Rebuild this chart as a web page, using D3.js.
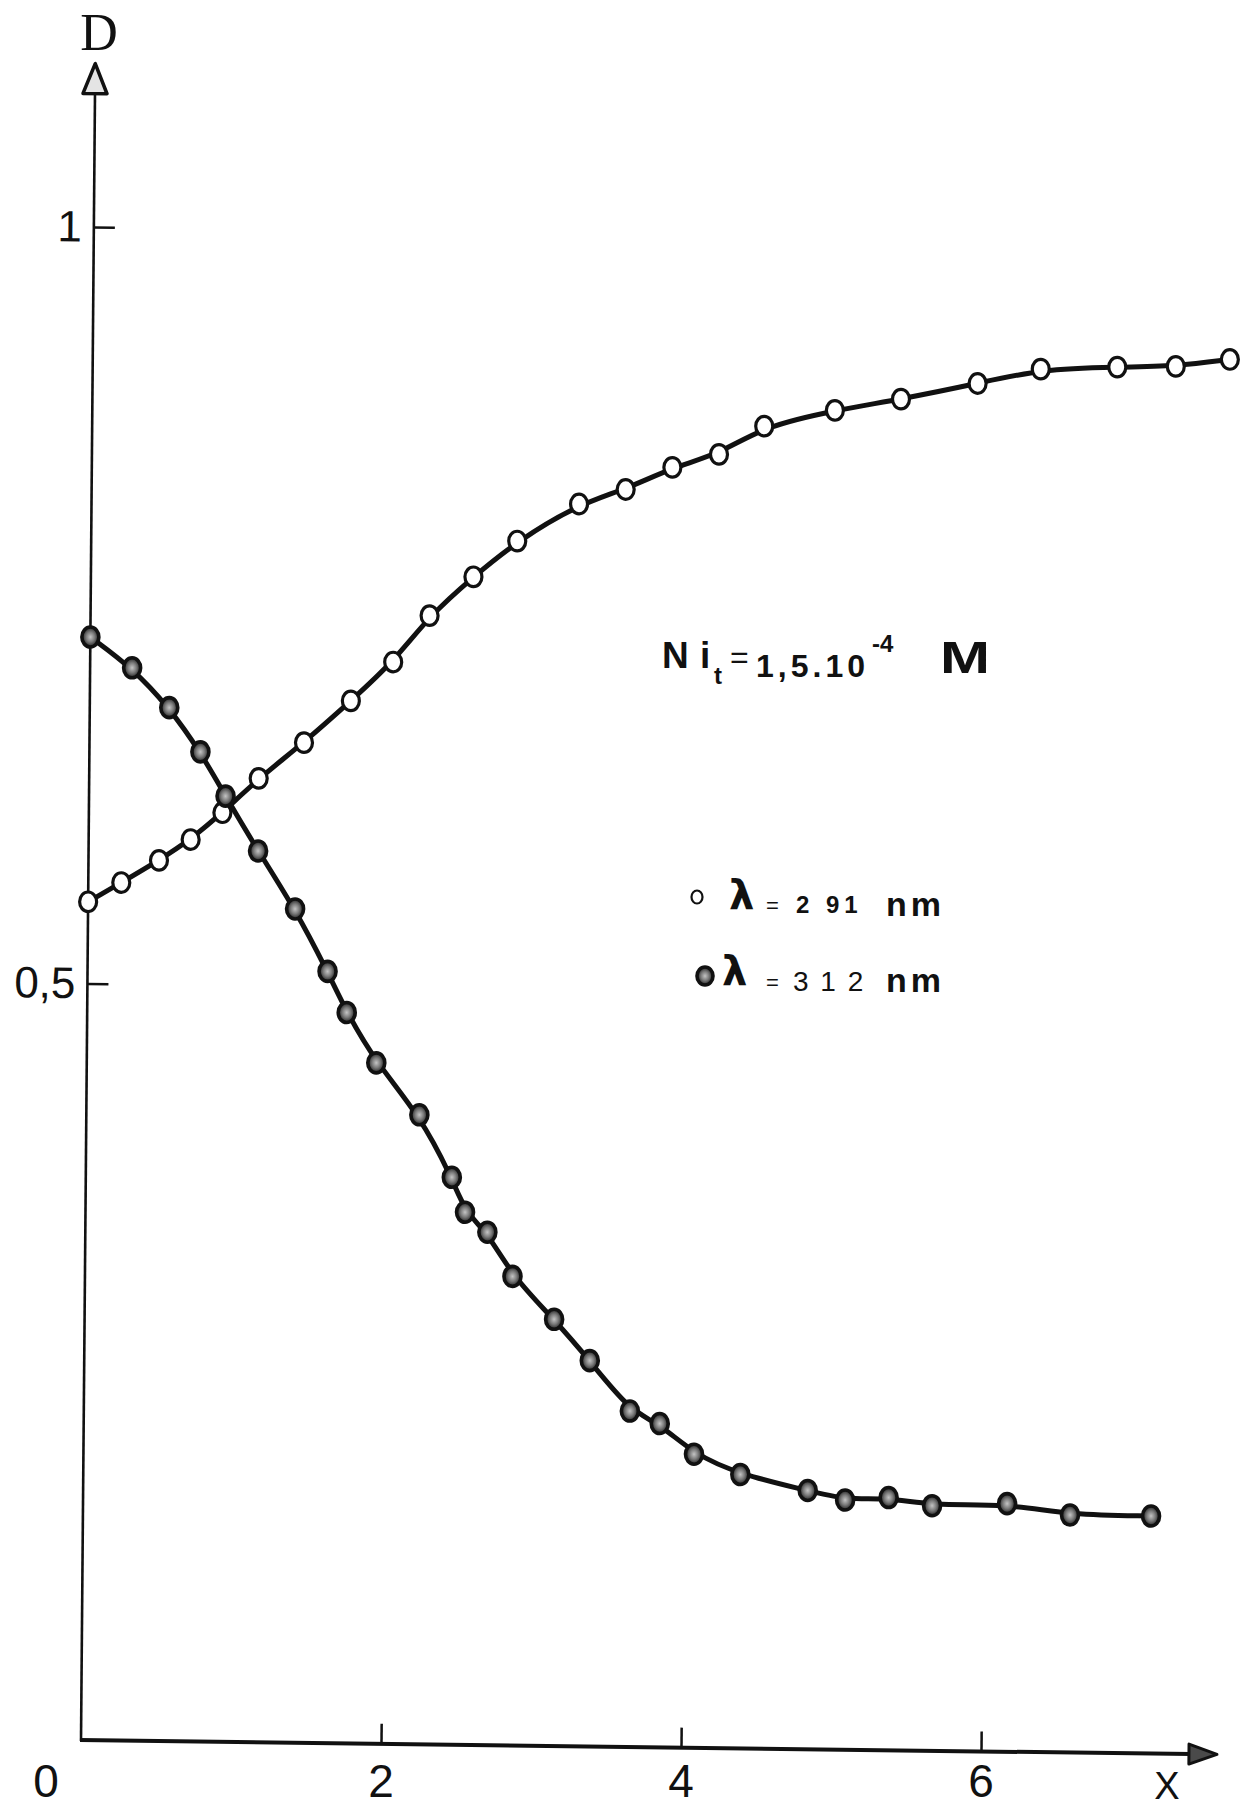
<!DOCTYPE html>
<html>
<head>
<meta charset="utf-8">
<script src="https://cdn.jsdelivr.net/npm/d3@7"></script>
<style>
  body { margin: 0; background: #fff; }
  svg { display: block; }
  .tick text { font-family: "Liberation Sans Narrow", "Liberation Sans", sans-serif; fill: #111; }
</style>
</head>
<body>
<svg id="chart"></svg>
<script>
// tick values / labels
const xTicks = [2, 4, 6];
const yTicks = [0.5, 1];
const yTickLabels = ['0,5', '1'];

// lambda = 291 nm (open circles)
const openX = [0, 0.22, 0.47, 0.68, 0.89, 1.13, 1.43, 1.74, 2.02, 2.26, 2.55, 2.84, 3.25, 3.56,
  3.87, 4.18, 4.48, 4.95, 5.39, 5.90, 6.32, 6.83, 7.22, 7.58];
const openD = [0.554, 0.567, 0.582, 0.596, 0.614, 0.637, 0.661, 0.689, 0.715, 0.746, 0.772, 0.796,
  0.821, 0.831, 0.846, 0.855, 0.874, 0.885, 0.893, 0.904, 0.914, 0.916, 0.917, 0.922];

// lambda = 312 nm (filled circles)
const filledX = [0, 0.28, 0.53, 0.74, 0.91, 1.13, 1.38, 1.60, 1.73, 1.93, 2.22, 2.44, 2.53, 2.68,
  2.85, 3.13, 3.37, 3.64, 3.84, 4.07, 4.38, 4.83, 5.08, 5.37, 5.66, 6.16, 6.58, 7.12];
const filledD = [0.729, 0.709, 0.683, 0.654, 0.625, 0.589, 0.551, 0.510, 0.483, 0.450, 0.416, 0.375,
  0.352, 0.339, 0.310, 0.282, 0.255, 0.222, 0.214, 0.194, 0.181, 0.171, 0.165, 0.167, 0.162,
  0.164, 0.157, 0.157];

const width = 1244, height = 1809;
const origin = { x: 81, y: 1740 };
const ink = '#111';
const narrow = '"Liberation Sans Narrow", "Liberation Sans", sans-serif';
const sans = '"Liberation Sans", "DejaVu Sans", sans-serif';

const svg = d3.select('#chart').attr('width', width).attr('height', height);

const defs = svg.append('defs');
const grad = defs.append('radialGradient').attr('id', 'dotFill');
grad.append('stop').attr('offset', '0%').attr('stop-color', '#c4c4c4');
grad.append('stop').attr('offset', '50%').attr('stop-color', '#7a7a7a');
grad.append('stop').attr('offset', '100%').attr('stop-color', '#1e1e1e');

// scales: 150 px per x unit, 1513 px per D unit
const x = d3.scaleLinear().domain([0, 7.6]).range([origin.x, origin.x + 7.6 * 150]);
const y = d3.scaleLinear().domain([0, 1]).range([origin.y, origin.y - 1513]);

// the scanned figure is slightly skewed, reproduce it around the origin
const plot = svg.append('g')
  .attr('transform', `translate(${origin.x},${origin.y}) matrix(1,0.0127,-0.0085,1,0,0) translate(${-origin.x},${-origin.y})`);

// y axis ticks (inward) and labels
const yAxis = plot.append('g')
  .attr('transform', `translate(${origin.x},0)`)
  .call(d3.axisLeft(y).tickValues(yTicks).tickSizeInner(-21).tickSizeOuter(0).tickPadding(12)
    .tickFormat((d, i) => yTickLabels[i]));
yAxis.select('.domain').remove();
yAxis.selectAll('.tick line').attr('stroke', ink).attr('stroke-width', 2.5);
yAxis.selectAll('.tick text').style('font-size', '44px');

// x axis ticks (inward); labels are set below, unskewed
const xAxis = plot.append('g')
  .attr('transform', `translate(0,${origin.y})`)
  .call(d3.axisBottom(x).tickValues(xTicks).tickSizeInner(-20).tickSizeOuter(0).tickFormat(''));
xAxis.select('.domain').remove();
xAxis.selectAll('.tick line').attr('stroke', ink).attr('stroke-width', 2.5);

svg.append('g').selectAll('text')
  .data(xTicks)
  .join('text')
  .attr('x', (d) => x(d)).attr('y', 1797)
  .attr('text-anchor', 'middle')
  .style('font-family', narrow).style('font-size', '46px').attr('fill', ink)
  .text((d) => d);

// axis lines with arrow heads
const yTop = y(1.108);
plot.append('line')
  .attr('x1', origin.x).attr('y1', origin.y + 1)
  .attr('x2', origin.x).attr('y2', yTop + 28)
  .attr('stroke', ink).attr('stroke-width', 2.6);
plot.append('path')
  .attr('d', `M${origin.x},${yTop} L${origin.x - 12},${yTop + 30} L${origin.x + 12},${yTop + 30} Z`)
  .attr('fill', '#e4e4e4').attr('stroke', ink).attr('stroke-width', 3.5).attr('stroke-linejoin', 'round');

const xEnd = x(7.573);
plot.append('line')
  .attr('x1', origin.x - 1).attr('y1', origin.y)
  .attr('x2', xEnd - 26).attr('y2', origin.y)
  .attr('stroke', ink).attr('stroke-width', 4);
plot.append('path')
  .attr('d', `M${xEnd},${origin.y} L${xEnd - 28},${origin.y - 10} L${xEnd - 28},${origin.y + 10} Z`)
  .attr('fill', '#4a4a4a').attr('stroke', ink).attr('stroke-width', 3).attr('stroke-linejoin', 'round');

// axis names and origin label
svg.append('text')
  .attr('x', 46).attr('y', 1797)
  .attr('text-anchor', 'middle')
  .style('font-family', narrow).style('font-size', '46px').attr('fill', ink)
  .text('0');
svg.append('text')
  .attr('x', 1167).attr('y', 1799)
  .attr('text-anchor', 'middle')
  .style('font-family', narrow).style('font-size', '38px').attr('fill', ink)
  .text('X');
svg.append('text')
  .attr('x', 99).attr('y', 50)
  .attr('text-anchor', 'middle')
  .style('font-family', '"Liberation Serif", serif')
  .style('font-size', '52px').attr('fill', ink)
  .text('D');

// curves
const openPts = openX.map((v, i) => [v, openD[i]]);
const filledPts = filledX.map((v, i) => [v, filledD[i]]);
const line = d3.line().x((d) => x(d[0])).y((d) => y(d[1])).curve(d3.curveBasis);

plot.append('path').datum(openPts)
  .attr('d', line).attr('fill', 'none')
  .attr('stroke', ink).attr('stroke-width', 5).attr('stroke-linecap', 'round');
plot.append('path').datum(filledPts)
  .attr('d', line).attr('fill', 'none')
  .attr('stroke', ink).attr('stroke-width', 5).attr('stroke-linecap', 'round');

// markers
plot.selectAll('.open-dot')
  .data(openPts)
  .join('ellipse')
  .attr('class', 'open-dot')
  .attr('cx', (d) => x(d[0])).attr('cy', (d) => y(d[1]))
  .attr('rx', 8.5).attr('ry', 9.8)
  .attr('fill', '#fff').attr('stroke', ink).attr('stroke-width', 3.2);

plot.selectAll('.filled-dot')
  .data(filledPts)
  .join('ellipse')
  .attr('class', 'filled-dot')
  .attr('cx', (d) => x(d[0])).attr('cy', (d) => y(d[1]))
  .attr('rx', 8.5).attr('ry', 10)
  .attr('fill', 'url(#dotFill)').attr('stroke', ink).attr('stroke-width', 3.6);

// concentration annotation
const ann = svg.append('g').attr('fill', ink).style('font-family', sans);
ann.append('text').attr('x', 662).attr('y', 668)
  .style('font-size', '37px').style('font-weight', 'bold').text('N');
ann.append('text').attr('x', 700).attr('y', 668)
  .style('font-size', '37px').style('font-weight', 'bold').text('i');
ann.append('text').attr('x', 714).attr('y', 684)
  .style('font-size', '24px').style('font-weight', 'bold').text('t');
ann.append('text').attr('x', 730).attr('y', 668)
  .style('font-size', '32px').text('=');
ann.append('text').attr('x', 756).attr('y', 677)
  .style('font-size', '32px').style('font-weight', 'bold').attr('letter-spacing', 4).text('1,5.10');
ann.append('text').attr('x', 872).attr('y', 652)
  .style('font-size', '24px').style('font-weight', 'bold').text('-4');
ann.append('text').attr('x', 940).attr('y', 673)
  .attr('textLength', 50).attr('lengthAdjust', 'spacingAndGlyphs')
  .style('font-size', '44px').style('font-weight', 'bold').text('M');

// legend
const leg = svg.append('g').attr('fill', ink).style('font-family', sans);
leg.append('ellipse').attr('cx', 697).attr('cy', 897).attr('rx', 5.5).attr('ry', 6.5)
  .attr('fill', 'none').attr('stroke', ink).attr('stroke-width', 2.2);
leg.append('text').attr('x', 729).attr('y', 909)
  .style('font-family', '"DejaVu Sans", sans-serif')
  .style('font-size', '40px').style('font-weight', 'bold').text('λ');
leg.append('text').attr('x', 766).attr('y', 913)
  .style('font-size', '22px').text('=');
leg.append('text').attr('x', 796).attr('y', 913)
  .style('font-size', '24px').style('font-weight', 'bold').attr('letter-spacing', 5).text('2 91');
leg.append('text').attr('x', 886).attr('y', 916)
  .style('font-size', '34px').style('font-weight', 'bold').attr('letter-spacing', 4).text('nm');

leg.append('ellipse').attr('cx', 705).attr('cy', 976).attr('rx', 8).attr('ry', 9)
  .attr('fill', 'url(#dotFill)').attr('stroke', ink).attr('stroke-width', 3.6);
leg.append('text').attr('x', 722).attr('y', 985)
  .style('font-family', '"DejaVu Sans", sans-serif')
  .style('font-size', '40px').style('font-weight', 'bold').text('λ');
leg.append('text').attr('x', 766).attr('y', 990)
  .style('font-size', '22px').text('=');
leg.append('text').attr('x', 793).attr('y', 991)
  .style('font-size', '28px').attr('letter-spacing', 2).text('3 1 2');
leg.append('text').attr('x', 886).attr('y', 992)
  .style('font-size', '34px').style('font-weight', 'bold').attr('letter-spacing', 4).text('nm');
</script>
</body>
</html>
